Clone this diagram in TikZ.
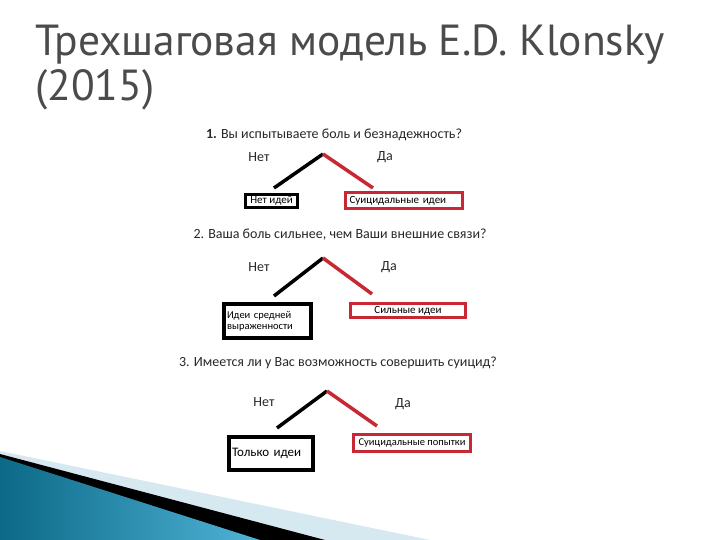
\documentclass[tikz,border=0pt]{standalone}
\usepackage{fontspec}
\setmainfont{Carlito}
\newfontfamily\titlefont{PT Sans}
\definecolor{tgray}{RGB}{75,75,75}
\definecolor{dred}{RGB}{200,40,52}
\definecolor{qtext}{RGB}{40,40,40}
\definecolor{dteal}{RGB}{12,105,135}
\definecolor{lteal}{RGB}{80,180,215}
\definecolor{pale}{RGB}{214,233,240}
\tikzset{
  titletext/.style={anchor=west, font=\titlefont\fontsize{43.5}{46}\selectfont, text=tgray, inner sep=0pt},
  question/.style={font=\fontsize{14}{16}\selectfont, text=qtext, inner sep=0pt},
  answer/.style={font=\fontsize{14}{16}\selectfont, text=qtext, inner sep=0pt},
  nobox/.style={draw=black, line width=3.5pt, inner sep=3pt, font=\fontsize{10.5}{12}\selectfont, align=left},
  yesbox/.style={draw=dred, line width=3pt, inner sep=3pt, font=\fontsize{11}{12}\selectfont, fill=white},
  noline/.style={line width=3.5pt, black},
  yesline/.style={line width=3.5pt, dred},
}
\begin{document}
\begin{tikzpicture}[x=1pt,y=-1pt]
\useasboundingbox (0,0) rectangle (720,540);
\fill[white] (0,0) rectangle (720,540);
% bottom decoration
\fill[pale] (0,451) -- (430,540) -- (0,540) -- cycle;
\fill[black] (0,454) -- (325,540) -- (0,540) -- cycle;
\shade[left color=dteal, right color=lteal] (0,457) -- (260,540) -- (0,540) -- cycle;
% title
\node[titletext] (title1) at (35,45) {Трехшаговая модель E.D. Klonsky};
\node[titletext] (title2) at (35,90) {(2015)};
% step 1
\node[question] (q1) at (334,135) {\textbf{1.} Вы испытываете боль и безнадежность?};
\node[answer] (n1) at (259,157) {Нет};
\node[answer] (d1) at (385,157) {Да};
\coordinate (a1) at (323,154);
\coordinate (e1n) at (274,188);
\coordinate (e1y) at (373,188);
\draw[noline] (a1) -- (e1n);
\draw[yesline] (a1) -- (e1y);
\node[nobox, minimum width=52pt, minimum height=13pt, inner sep=1pt, font=\fontsize{11}{12}\selectfont] (b1n) at (271.5,201) {Нет идей};
\node[yesbox, minimum width=117pt, minimum height=16pt, text width=109pt, align=left, inner sep=2pt] (b1y) at (404,200.5) {Суицидальные идеи};
% step 2
\node[question] (q2) at (340,235) {2. Ваша боль сильнее, чем Ваши внешние связи?};
\node[answer] (n2) at (259,267) {Нет};
\node[answer] (d2) at (389,267) {Да};
\coordinate (a2) at (323,258);
\coordinate (e2n) at (274,296);
\coordinate (e2y) at (372,294);
\draw[noline] (a2) -- (e2n);
\draw[yesline] (a2) -- (e2y);
\node[nobox, minimum width=87pt, minimum height=34pt, text width=81pt, inner sep=2pt] (b2n) at (267.5,321) {Идеи средней\\[-1pt]выраженности};
\node[yesbox, minimum width=115pt, minimum height=14pt, inner sep=1pt] (b2y) at (408,310.5) {Сильные идеи};
% step 3
\node[question] (q3) at (338,363) {3. Имеется ли у Вас возможность совершить суицид?};
\node[answer] (n3) at (264,402) {Нет};
\node[answer] (d3) at (403,404) {Да};
\coordinate (a3) at (327,391);
\coordinate (e3n) at (277,428);
\coordinate (e3y) at (377,426);
\draw[noline] (a3) -- (e3n);
\draw[yesline] (a3) -- (e3y);
\node[nobox, minimum width=84pt, minimum height=33pt, text width=78pt, font=\fontsize{13}{15}\selectfont] (b3n) at (271,453.5) {Только идеи};
\node[yesbox, minimum width=117pt, minimum height=17pt, inner sep=1pt, font=\fontsize{10.5}{12}\selectfont] (b3y) at (412,443) {Суицидальные попытки};
\end{tikzpicture}
\end{document}
